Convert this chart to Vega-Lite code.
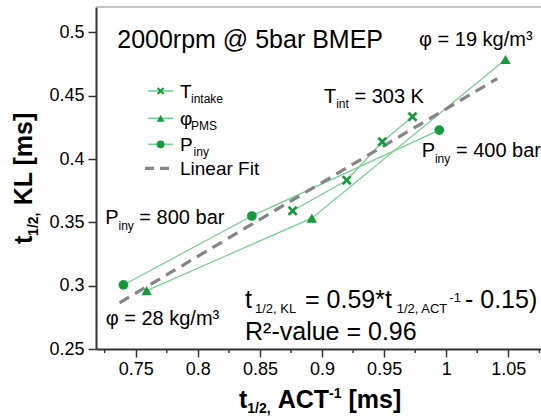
{
  "$schema": "https://vega.github.io/schema/vega-lite/v6.json",
  "width": 445,
  "height": 342,
  "autosize": {"type": "none"},
  "padding": {"left": 96, "top": 7, "right": 0, "bottom": 68},
  "background": "white",
  "config": {
    "view": {"stroke": null},
    "font": "Liberation Sans",
    "text": {"font": "Liberation Sans", "color": "black"}
  },
  "datasets": {
    "pts": [
      {"series": "T", "x": 0.8763, "y": 0.3591},
      {"series": "T", "x": 0.9199, "y": 0.3833},
      {"series": "T", "x": 0.9485, "y": 0.4136},
      {"series": "T", "x": 0.9728, "y": 0.4334},
      {"series": "phi", "x": 0.7588, "y": 0.2961},
      {"series": "phi", "x": 0.8918, "y": 0.3533},
      {"series": "phi", "x": 1.0477, "y": 0.4786},
      {"series": "P", "x": 0.7401, "y": 0.3006},
      {"series": "P", "x": 0.8435, "y": 0.355},
      {"series": "P", "x": 0.9944, "y": 0.4228}
    ],
    "fit": [
      {"x": 0.737, "y": 0.2865},
      {"x": 1.041, "y": 0.4635}
    ],
    "minorx": [
      {"x": 0.725, "y": 0.25}, {"x": 0.775, "y": 0.25}, {"x": 0.825, "y": 0.25},
      {"x": 0.875, "y": 0.25}, {"x": 0.925, "y": 0.25}, {"x": 0.975, "y": 0.25},
      {"x": 1.025, "y": 0.25}, {"x": 1.075, "y": 0.25}
    ],
    "leg": [
      {"series": "T", "x1": 0.7601, "x2": 0.7802, "xm": 0.770, "y": 0.4537},
      {"series": "phi", "x1": 0.7601, "x2": 0.7802, "xm": 0.770, "y": 0.4321},
      {"series": "P", "x1": 0.7601, "x2": 0.7802, "xm": 0.770, "y": 0.4116},
      {"series": "fit", "x1": 0.7575, "x2": 0.7817, "xm": 0.770, "y": 0.3926}
    ],
    "border": [{"y": 0.52}],
    "txt": [
      {"t": "2000rpm @ 5bar BMEP", "x": 0.7351, "y": 0.4879, "k": "title"},
      {"t": "φ = 19 kg/m³", "x": 0.9781, "y": 0.4892, "k": "ann"},
      {"t": "T", "x": 0.9016, "y": 0.4446, "k": "ann"},
      {"t": "int", "x": 0.9114, "y": 0.4402, "k": "annsub"},
      {"t": "= 303 K", "x": 0.9261, "y": 0.4446, "k": "ann"},
      {"t": "P", "x": 0.9802, "y": 0.4013, "k": "ann"},
      {"t": "iny", "x": 0.9909, "y": 0.3968, "k": "annsub"},
      {"t": "= 400 bar", "x": 1.0078, "y": 0.4013, "k": "ann"},
      {"t": "P", "x": 0.7254, "y": 0.3487, "k": "ann"},
      {"t": "iny", "x": 0.7361, "y": 0.3442, "k": "annsub"},
      {"t": "= 800 bar", "x": 0.7529, "y": 0.3487, "k": "ann"},
      {"t": "φ = 28 kg/m³", "x": 0.7258, "y": 0.2688, "k": "ann"},
      {"t": "t", "x": 0.838, "y": 0.282, "k": "eq"},
      {"t": "1/2, KL", "x": 0.846, "y": 0.2783, "k": "eqsub"},
      {"t": "= 0.59*t", "x": 0.8863, "y": 0.282, "k": "eq"},
      {"t": "1/2, ACT", "x": 0.9601, "y": 0.2783, "k": "eqsub"},
      {"t": "-1", "x": 1.0025, "y": 0.2872, "k": "eqsub"},
      {"t": "- 0.15)", "x": 1.0151, "y": 0.282, "k": "eq"},
      {"t": "R²-value = 0.96", "x": 0.838, "y": 0.2575, "k": "eq"},
      {"t": "T", "x": 0.7856, "y": 0.4481, "k": "leg"},
      {"t": "intake", "x": 0.7945, "y": 0.4442, "k": "legsub"},
      {"t": "φ", "x": 0.7856, "y": 0.4268, "k": "leg"},
      {"t": "PMS", "x": 0.7945, "y": 0.4228, "k": "legsub"},
      {"t": "P", "x": 0.7856, "y": 0.406, "k": "leg"},
      {"t": "iny", "x": 0.7966, "y": 0.402, "k": "legsub"},
      {"t": "Linear Fit", "x": 0.7856, "y": 0.3873, "k": "leg"},
      {"t": "t", "x": 0.8331, "y": 0.2033, "k": "xt"},
      {"t": "1/2,", "x": 0.8398, "y": 0.1994, "k": "xtsub"},
      {"t": "ACT", "x": 0.8643, "y": 0.2033, "k": "xt"},
      {"t": "-1", "x": 0.9057, "y": 0.2112, "k": "xtsub"},
      {"t": "[ms]", "x": 0.9213, "y": 0.2033, "k": "xt"},
      {"t": "t", "x": 0.6665, "y": 0.3328, "k": "yt"},
      {"t": "1/2,", "x": 0.6713, "y": 0.3393, "k": "ytsub"},
      {"t": "KL [ms]", "x": 0.6665, "y": 0.3634, "k": "yt"}
    ]
  },
  "layer": [
    {
      "data": {"name": "border"},
      "mark": {"type": "rule", "color": "#8a8a8a", "strokeWidth": 1},
      "encoding": {
        "y": {"field": "y", "type": "quantitative", "scale": {"domain": [0.25, 0.52], "nice": false, "zero": false}, "title": null}
      }
    },
    {
      "data": {"name": "pts"},
      "mark": {"type": "line", "color": "#74d18b", "strokeWidth": 1.2},
      "encoding": {
        "x": {
          "field": "x", "type": "quantitative",
          "scale": {"domain": [0.718, 1.0763], "nice": false, "zero": false},
          "title": null,
          "axis": {
            "values": [0.75, 0.8, 0.85, 0.9, 0.95, 1.0, 1.05],
            "format": ".2~f",
            "tickSize": 8,
            "grid": false,
            "domainColor": "#333333", "domainWidth": 2,
            "tickColor": "#333333", "tickWidth": 1.5,
            "labelFont": "Liberation Sans", "labelFontSize": 18, "labelColor": "black",
            "labelPadding": 3, "labelFlush": false, "labelOverlap": false
          }
        },
        "y": {
          "field": "y", "type": "quantitative",
          "scale": {"domain": [0.25, 0.52], "nice": false, "zero": false},
          "title": null,
          "axis": {
            "values": [0.25, 0.275, 0.3, 0.325, 0.35, 0.375, 0.4, 0.425, 0.45, 0.475, 0.5],
            "format": ".2~f",
            "labelExpr": "abs(datum.value*20 - round(datum.value*20)) < 0.01 ? datum.label : ''",
            "tickSize": {"condition": {"test": "abs(datum.value*20 - round(datum.value*20)) < 0.01", "value": 8}, "value": 4},
            "grid": false,
            "domainColor": "#333333", "domainWidth": 2,
            "tickColor": "#333333", "tickWidth": 1.5,
            "labelFont": "Liberation Sans", "labelFontSize": 18, "labelColor": "black",
            "labelPadding": 4, "labelFlush": false, "labelOverlap": false
          }
        },
        "detail": {"field": "series", "type": "nominal"}
      }
    },
    {
      "data": {"name": "minorx"},
      "mark": {"type": "tick", "orient": "vertical", "color": "#333333", "thickness": 1.5, "size": 4, "yOffset": 2, "opacity": 1},
      "encoding": {
        "x": {"field": "x", "type": "quantitative", "scale": {"domain": [0.718, 1.0763], "nice": false, "zero": false}, "title": null},
        "y": {"field": "y", "type": "quantitative", "scale": {"domain": [0.25, 0.52], "nice": false, "zero": false}, "title": null}
      }
    },
    {
      "data": {"name": "fit"},
      "mark": {"type": "line", "color": "#858585", "strokeWidth": 3.2, "strokeDash": [11, 7]},
      "encoding": {
        "x": {"field": "x", "type": "quantitative", "scale": {"domain": [0.718, 1.0763], "nice": false, "zero": false}, "title": null},
        "y": {"field": "y", "type": "quantitative", "scale": {"domain": [0.25, 0.52], "nice": false, "zero": false}, "title": null}
      }
    },
    {
      "data": {"name": "pts"},
      "transform": [{"filter": "datum.series == 'T'"}],
      "mark": {"type": "point", "filled": true, "opacity": 1, "color": "#159a3c", "size": 100,
               "shape": "M-1,-0.62L-0.62,-1L0,-0.38L0.62,-1L1,-0.62L0.38,0L1,0.62L0.62,1L0,0.38L-0.62,1L-1,0.62L-0.38,0Z"},
      "encoding": {
        "x": {"field": "x", "type": "quantitative", "scale": {"domain": [0.718, 1.0763], "nice": false, "zero": false}, "title": null},
        "y": {"field": "y", "type": "quantitative", "scale": {"domain": [0.25, 0.52], "nice": false, "zero": false}, "title": null}
      }
    },
    {
      "data": {"name": "pts"},
      "transform": [{"filter": "datum.series == 'phi'"}],
      "mark": {"type": "point", "filled": true, "opacity": 1, "color": "#159a3c", "size": 110, "shape": "triangle-up"},
      "encoding": {
        "x": {"field": "x", "type": "quantitative", "scale": {"domain": [0.718, 1.0763], "nice": false, "zero": false}, "title": null},
        "y": {"field": "y", "type": "quantitative", "scale": {"domain": [0.25, 0.52], "nice": false, "zero": false}, "title": null}
      }
    },
    {
      "data": {"name": "pts"},
      "transform": [{"filter": "datum.series == 'P'"}],
      "mark": {"type": "point", "filled": true, "opacity": 1, "color": "#159a3c", "size": 95, "shape": "circle"},
      "encoding": {
        "x": {"field": "x", "type": "quantitative", "scale": {"domain": [0.718, 1.0763], "nice": false, "zero": false}, "title": null},
        "y": {"field": "y", "type": "quantitative", "scale": {"domain": [0.25, 0.52], "nice": false, "zero": false}, "title": null}
      }
    },
    {
      "data": {"name": "leg"},
      "transform": [{"filter": "datum.series != 'fit'"}],
      "mark": {"type": "rule", "color": "#74d18b", "strokeWidth": 1.6},
      "encoding": {
        "x": {"field": "x1", "type": "quantitative", "scale": {"domain": [0.718, 1.0763], "nice": false, "zero": false}, "title": null},
        "x2": {"field": "x2"},
        "y": {"field": "y", "type": "quantitative", "scale": {"domain": [0.25, 0.52], "nice": false, "zero": false}, "title": null}
      }
    },
    {
      "data": {"name": "leg"},
      "transform": [{"filter": "datum.series == 'fit'"}],
      "mark": {"type": "rule", "color": "#858585", "strokeWidth": 3.2, "strokeDash": [9, 6]},
      "encoding": {
        "x": {"field": "x1", "type": "quantitative", "scale": {"domain": [0.718, 1.0763], "nice": false, "zero": false}, "title": null},
        "x2": {"field": "x2"},
        "y": {"field": "y", "type": "quantitative", "scale": {"domain": [0.25, 0.52], "nice": false, "zero": false}, "title": null}
      }
    },
    {
      "data": {"name": "leg"},
      "transform": [{"filter": "datum.series == 'T'"}],
      "mark": {"type": "point", "filled": true, "opacity": 1, "color": "#159a3c", "size": 55,
               "shape": "M-1,-0.62L-0.62,-1L0,-0.38L0.62,-1L1,-0.62L0.38,0L1,0.62L0.62,1L0,0.38L-0.62,1L-1,0.62L-0.38,0Z"},
      "encoding": {
        "x": {"field": "xm", "type": "quantitative", "scale": {"domain": [0.718, 1.0763], "nice": false, "zero": false}, "title": null},
        "y": {"field": "y", "type": "quantitative", "scale": {"domain": [0.25, 0.52], "nice": false, "zero": false}, "title": null}
      }
    },
    {
      "data": {"name": "leg"},
      "transform": [{"filter": "datum.series == 'phi'"}],
      "mark": {"type": "point", "filled": true, "opacity": 1, "color": "#159a3c", "size": 60, "shape": "triangle-up"},
      "encoding": {
        "x": {"field": "xm", "type": "quantitative", "scale": {"domain": [0.718, 1.0763], "nice": false, "zero": false}, "title": null},
        "y": {"field": "y", "type": "quantitative", "scale": {"domain": [0.25, 0.52], "nice": false, "zero": false}, "title": null}
      }
    },
    {
      "data": {"name": "leg"},
      "transform": [{"filter": "datum.series == 'P'"}],
      "mark": {"type": "point", "filled": true, "opacity": 1, "color": "#159a3c", "size": 60, "shape": "circle"},
      "encoding": {
        "x": {"field": "xm", "type": "quantitative", "scale": {"domain": [0.718, 1.0763], "nice": false, "zero": false}, "title": null},
        "y": {"field": "y", "type": "quantitative", "scale": {"domain": [0.25, 0.52], "nice": false, "zero": false}, "title": null}
      }
    },
    {
      "data": {"name": "txt"},
      "transform": [{"filter": "datum.k == 'title'"}],
      "mark": {"type": "text", "align": "left", "baseline": "alphabetic", "fontSize": 25, "font": "Liberation Sans", "color": "black"},
      "encoding": {
        "x": {"field": "x", "type": "quantitative", "scale": {"domain": [0.718, 1.0763], "nice": false, "zero": false}, "title": null},
        "y": {"field": "y", "type": "quantitative", "scale": {"domain": [0.25, 0.52], "nice": false, "zero": false}, "title": null},
        "text": {"field": "t"}
      }
    },
    {
      "data": {"name": "txt"},
      "transform": [{"filter": "datum.k == 'ann'"}],
      "mark": {"type": "text", "align": "left", "baseline": "alphabetic", "fontSize": 20, "font": "Liberation Sans", "color": "black"},
      "encoding": {
        "x": {"field": "x", "type": "quantitative", "scale": {"domain": [0.718, 1.0763], "nice": false, "zero": false}, "title": null},
        "y": {"field": "y", "type": "quantitative", "scale": {"domain": [0.25, 0.52], "nice": false, "zero": false}, "title": null},
        "text": {"field": "t"}
      }
    },
    {
      "data": {"name": "txt"},
      "transform": [{"filter": "datum.k == 'annsub' || datum.k == 'legsub'"}],
      "mark": {"type": "text", "align": "left", "baseline": "alphabetic", "fontSize": 12, "font": "Liberation Sans", "color": "black"},
      "encoding": {
        "x": {"field": "x", "type": "quantitative", "scale": {"domain": [0.718, 1.0763], "nice": false, "zero": false}, "title": null},
        "y": {"field": "y", "type": "quantitative", "scale": {"domain": [0.25, 0.52], "nice": false, "zero": false}, "title": null},
        "text": {"field": "t"}
      }
    },
    {
      "data": {"name": "txt"},
      "transform": [{"filter": "datum.k == 'leg'"}],
      "mark": {"type": "text", "align": "left", "baseline": "alphabetic", "fontSize": 19, "font": "Liberation Sans", "color": "black"},
      "encoding": {
        "x": {"field": "x", "type": "quantitative", "scale": {"domain": [0.718, 1.0763], "nice": false, "zero": false}, "title": null},
        "y": {"field": "y", "type": "quantitative", "scale": {"domain": [0.25, 0.52], "nice": false, "zero": false}, "title": null},
        "text": {"field": "t"}
      }
    },
    {
      "data": {"name": "txt"},
      "transform": [{"filter": "datum.k == 'eq'"}],
      "mark": {"type": "text", "align": "left", "baseline": "alphabetic", "fontSize": 25, "font": "Liberation Sans", "color": "black"},
      "encoding": {
        "x": {"field": "x", "type": "quantitative", "scale": {"domain": [0.718, 1.0763], "nice": false, "zero": false}, "title": null},
        "y": {"field": "y", "type": "quantitative", "scale": {"domain": [0.25, 0.52], "nice": false, "zero": false}, "title": null},
        "text": {"field": "t"}
      }
    },
    {
      "data": {"name": "txt"},
      "transform": [{"filter": "datum.k == 'eqsub'"}],
      "mark": {"type": "text", "align": "left", "baseline": "alphabetic", "fontSize": 13, "font": "Liberation Sans", "color": "black"},
      "encoding": {
        "x": {"field": "x", "type": "quantitative", "scale": {"domain": [0.718, 1.0763], "nice": false, "zero": false}, "title": null},
        "y": {"field": "y", "type": "quantitative", "scale": {"domain": [0.25, 0.52], "nice": false, "zero": false}, "title": null},
        "text": {"field": "t"}
      }
    },
    {
      "data": {"name": "txt"},
      "transform": [{"filter": "datum.k == 'xt'"}],
      "mark": {"type": "text", "align": "left", "baseline": "alphabetic", "fontSize": 25, "fontWeight": "bold", "font": "Liberation Sans", "color": "black"},
      "encoding": {
        "x": {"field": "x", "type": "quantitative", "scale": {"domain": [0.718, 1.0763], "nice": false, "zero": false}, "title": null},
        "y": {"field": "y", "type": "quantitative", "scale": {"domain": [0.25, 0.52], "nice": false, "zero": false}, "title": null},
        "text": {"field": "t"}
      }
    },
    {
      "data": {"name": "txt"},
      "transform": [{"filter": "datum.k == 'xtsub'"}],
      "mark": {"type": "text", "align": "left", "baseline": "alphabetic", "fontSize": 14, "fontWeight": "bold", "font": "Liberation Sans", "color": "black"},
      "encoding": {
        "x": {"field": "x", "type": "quantitative", "scale": {"domain": [0.718, 1.0763], "nice": false, "zero": false}, "title": null},
        "y": {"field": "y", "type": "quantitative", "scale": {"domain": [0.25, 0.52], "nice": false, "zero": false}, "title": null},
        "text": {"field": "t"}
      }
    },
    {
      "data": {"name": "txt"},
      "transform": [{"filter": "datum.k == 'yt'"}],
      "mark": {"type": "text", "align": "left", "baseline": "alphabetic", "angle": 270, "fontSize": 25, "fontWeight": "bold", "font": "Liberation Sans", "color": "black"},
      "encoding": {
        "x": {"field": "x", "type": "quantitative", "scale": {"domain": [0.718, 1.0763], "nice": false, "zero": false}, "title": null},
        "y": {"field": "y", "type": "quantitative", "scale": {"domain": [0.25, 0.52], "nice": false, "zero": false}, "title": null},
        "text": {"field": "t"}
      }
    },
    {
      "data": {"name": "txt"},
      "transform": [{"filter": "datum.k == 'ytsub'"}],
      "mark": {"type": "text", "align": "left", "baseline": "alphabetic", "angle": 270, "fontSize": 14, "fontWeight": "bold", "font": "Liberation Sans", "color": "black"},
      "encoding": {
        "x": {"field": "x", "type": "quantitative", "scale": {"domain": [0.718, 1.0763], "nice": false, "zero": false}, "title": null},
        "y": {"field": "y", "type": "quantitative", "scale": {"domain": [0.25, 0.52], "nice": false, "zero": false}, "title": null},
        "text": {"field": "t"}
      }
    }
  ]
}
